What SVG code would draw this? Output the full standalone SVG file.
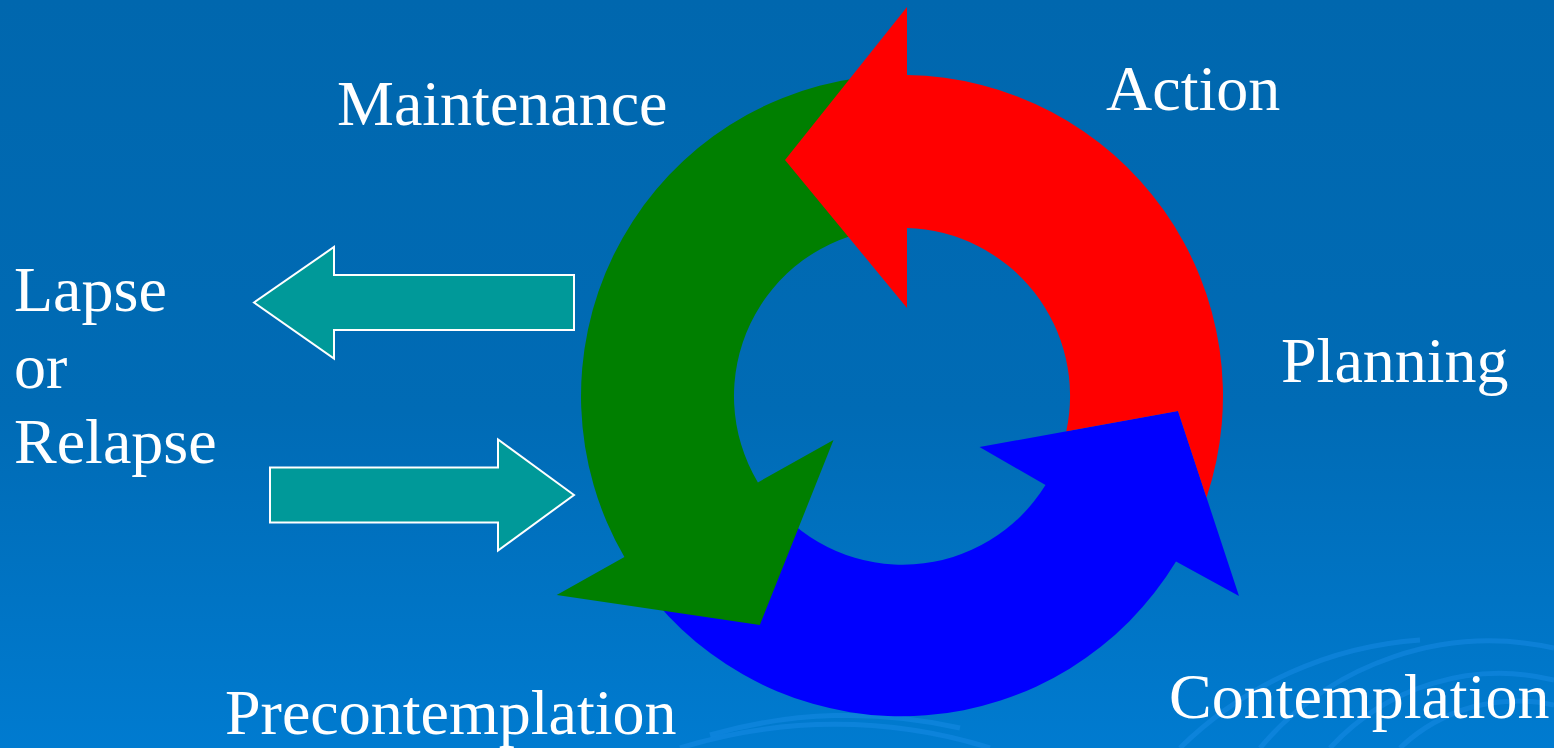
<svg xmlns="http://www.w3.org/2000/svg" width="1554" height="748" viewBox="0 0 1554 748">
  <defs>
    <linearGradient id="bg" x1="0" y1="0" x2="0" y2="1">
      <stop offset="0" stop-color="#0067AE"/>
      <stop offset="0.55" stop-color="#006BB5"/>
      <stop offset="1" stop-color="#007BD0"/>
    </linearGradient>
  </defs>
  <style>
    .lbl { font-family: "Liberation Serif", serif; font-size: 64px; fill: #FFFFFF; }
    .teal { fill: #009999; stroke: #FFFFFF; stroke-width: 2; stroke-linejoin: miter; }
    .swirl { fill: none; stroke: #1A8FE8; stroke-opacity: 0.45; stroke-width: 5; }
  </style>
  <rect x="0" y="0" width="1554" height="748" fill="url(#bg)"/>
  <g id="background-swirls">
    <path class="swirl" d="M1180 748 A 380 380 0 0 1 1420 640"/>
    <path class="swirl" d="M1260 748 A 300 300 0 0 1 1554 648"/>
    <path class="swirl" d="M1330 748 A 230 230 0 0 1 1554 680"/>
    <path class="swirl" d="M1400 748 A 170 170 0 0 1 1554 705"/>
    <path class="swirl" d="M710 735 A 500 500 0 0 1 960 728"/>
    <path class="swirl" d="M680 748 A 520 520 0 0 1 990 748" stroke-opacity="0.3"/>
  </g>
  <g id="arrow-blue">
    <path fill="#0000FF" d="M1178 411 L979.5 447 L1045.5 485 A168 168 0 0 1 772.9 503.5 L655.4 601.5 A321 321 0 0 0 1176 561.5 L1239 596 Z"/>
  </g>
  <g id="arrow-green">
    <path fill="#007F00" d="M759.8 625 L556.7 595 L624.4 557.1 A321 321 0 0 1 857.9 78 L878.9 229.6 A168 168 0 0 0 757.9 482.4 L833.5 440 Z"/>
  </g>
  <g id="arrow-red">
    <path fill="#FF0000" d="M785 160 L907 7 L907 75 A321 321 0 0 1 1206.5 497.5 L1178 411 L1066.3 431.3 A168 168 0 0 0 907 228 L907 308 Z"/>
  </g>
  <g id="connectors">
    <path id="arrow-lapse" class="teal" d="M254 302.5 L334 247 L334 275 L574 275 L574 330 L334 330 L334 358.5 Z"/>
    <path id="arrow-return" class="teal" d="M574 495 L498 439.5 L498 467.5 L270 467.5 L270 522.5 L498 522.5 L498 550.5 Z"/>
  </g>
  <g id="label-maintenance"><text class="lbl" x="337" y="125">Maintenance</text></g>
  <g id="label-action"><text class="lbl" x="1106" y="110">Action</text></g>
  <g id="label-planning"><text class="lbl" x="1281" y="382">Planning</text></g>
  <g id="label-contemplation"><text class="lbl" x="1169" y="718">Contemplation</text></g>
  <g id="label-precontemplation"><text class="lbl" x="225" y="734">Precontemplation</text></g>
  <g id="label-lapse">
    <text class="lbl" x="14" y="311">Lapse</text>
    <text class="lbl" x="14" y="388">or</text>
    <text class="lbl" x="14" y="463">Relapse</text>
  </g>
</svg>
